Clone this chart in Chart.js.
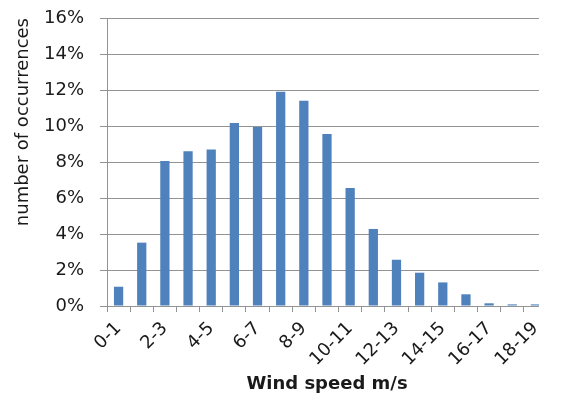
<!DOCTYPE html>
<html>
<head>
<meta charset="utf-8">
<script src="https://cdn.jsdelivr.net/npm/chart.js@4.4.1/dist/chart.umd.min.js"></script>
<style>
    html, body { margin: 0; padding: 0; background: #fff; }
    #clip { width: 539px; height: 404px; overflow: hidden; }
    #wrap { width: 563px; height: 404px; }
</style>
</head>
<body>
<div id="clip"><div id="wrap"><canvas id="myChart" width="563" height="404"></canvas></div></div>
<script>
(function(){
    "use strict";

    // wind speed bins (m/s)
    var categories = ['0-1','1-2','2-3','3-4','4-5','5-6','6-7','7-8','8-9','9-10',
                      '10-11','11-12','12-13','13-14','14-15','15-16','16-17','17-18','18-19'];
    // share of occurrences, in percent
    var occurrences = [1.07, 3.52, 8.05, 8.6, 8.7, 10.17, 9.94, 11.9, 11.4, 9.56,
                       6.56, 4.28, 2.57, 1.85, 1.31, 0.65, 0.15, 0.09, 0.09];
    var yTicks = [0, 2, 4, 6, 8, 10, 12, 14, 16];

    var font = "'DejaVu Sans', sans-serif";
    var gridGray = '#939393';

    function createChart(){
        var ctx = document.getElementById('myChart').getContext('2d');
        var myChart = new Chart(ctx, {
            type: 'bar',
            data: {
                labels: categories,
                datasets: [{
                    label: 'number of occurrences',
                    data: occurrences,
                    backgroundColor: '#4F81BD',
                    borderWidth: 0,
                    barPercentage: 0.4,
                    categoryPercentage: 1
                }]
            },
            options: {
                responsive: false,
                animation: false,
                devicePixelRatio: 1,
                layout: {
                    padding: { top: 18, right: 16, bottom: 0, left: 0 }
                },
                plugins: {
                    legend: { display: false },
                    tooltip: { enabled: false }
                },
                scales: {
                    x: {
                        grid: {
                            offset: true,
                            drawOnChartArea: false,
                            drawTicks: true,
                            tickLength: 6,
                            color: gridGray
                        },
                        border: { display: true, color: gridGray },
                        ticks: {
                            autoSkip: false,
                            maxRotation: 45,
                            minRotation: 45,
                            padding: 6,
                            color: '#1a1a1a',
                            font: { family: font, size: 18 },
                            callback: function(value, index){
                                return index % 2 === 0 ? categories[index] : '';
                            }
                        },
                        title: {
                            display: true,
                            text: 'Wind speed m/s',
                            color: '#1a1a1a',
                            font: { family: font, size: 18, weight: 'bold' },
                            padding: { top: 0, bottom: 9 }
                        },
                        afterFit: function(scale){ scale.height = 98; }
                    },
                    y: {
                        min: 0,
                        max: 16,
                        afterBuildTicks: function(scale){
                            scale.ticks = yTicks.map(function(v){ return { value: v }; });
                        },
                        grid: {
                            color: gridGray,
                            drawTicks: true,
                            tickLength: 7
                        },
                        border: { display: true, color: gridGray },
                        ticks: {
                            padding: 16,
                            color: '#1a1a1a',
                            font: { family: font, size: 18 },
                            callback: function(value){ return value + '%'; }
                        },
                        title: {
                            display: true,
                            text: 'number of occurrences',
                            align: 'end',
                            color: '#1a1a1a',
                            font: { family: font, size: 18 },
                            padding: { top: 13, bottom: 0 }
                        },
                        afterFit: function(scale){
                            scale.width = 107;
                            // tick padding otherwise leaks into the top/bottom space
                            scale.paddingTop = 0;
                            scale.paddingBottom = 0;
                        }
                    }
                }
            }
        });
    }

    createChart();
})();
</script>
</body>
</html>
